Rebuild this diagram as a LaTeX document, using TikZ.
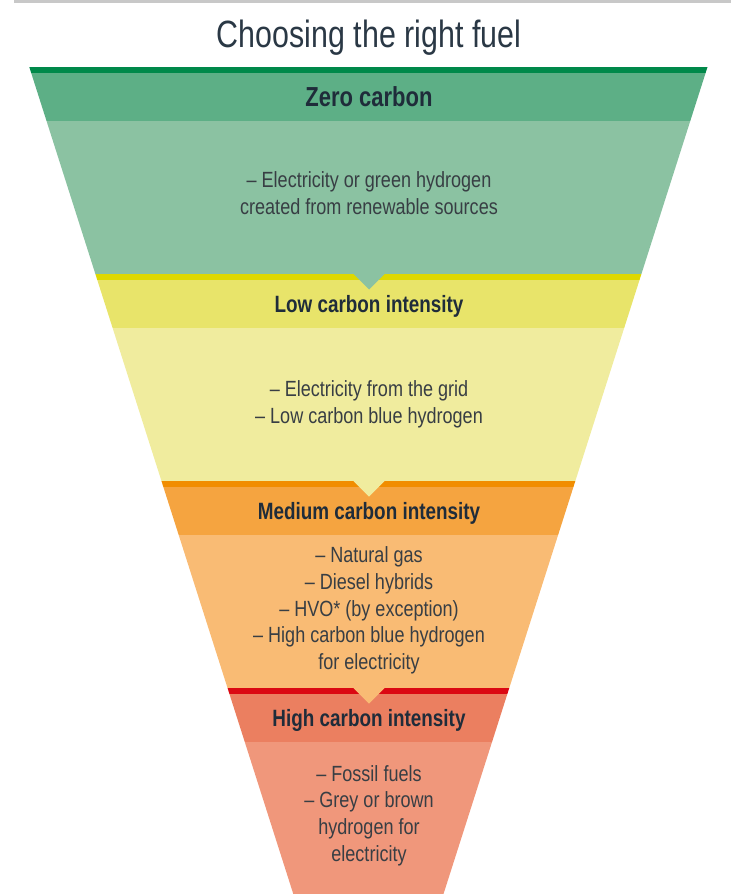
\documentclass[tikz,border=0pt]{standalone}
\usepackage{fontspec}
\setmainfont{Liberation Sans}
\newfontfamily\condfont[FakeStretch=0.8]{Liberation Sans}
\newfontfamily\bodyfont[FakeStretch=0.82]{Liberation Sans}
\definecolor{topgray}{HTML}{C8C8C8}
\definecolor{titlecol}{HTML}{2A3845}
\definecolor{headcol}{HTML}{1F2C3A}
\definecolor{bodycol}{HTML}{383E44}
\definecolor{gline}{HTML}{00894A}
\definecolor{ghead}{HTML}{5DAF86}
\definecolor{gbody}{HTML}{8BC2A2}
\definecolor{yline}{HTML}{DED800}
\definecolor{yhead}{HTML}{E8E46A}
\definecolor{ybody}{HTML}{F0EC9E}
\definecolor{oline}{HTML}{F18D00}
\definecolor{ohead}{HTML}{F5A440}
\definecolor{obody}{HTML}{F9BB74}
\definecolor{rline}{HTML}{DB0812}
\definecolor{rhead}{HTML}{EB7F60}
\definecolor{rbody}{HTML}{F0977B}
\begin{document}
\begin{tikzpicture}[x=1pt,y=-1pt,
  titletext/.style={inner sep=0pt,anchor=base,text=titlecol,font=\condfont\fontsize{38}{40}\selectfont},
  headtext/.style={inner sep=0pt,anchor=base,text=headcol,font=\condfont\bfseries\fontsize{23.6}{26}\selectfont},
  bigheadtext/.style={inner sep=0pt,anchor=base,text=headcol,font=\condfont\bfseries\fontsize{27.5}{30}\selectfont},
  bodytext/.style={inner sep=0pt,align=center,text=bodycol,font=\bodyfont\fontsize{22}{26.7}\selectfont}]
\useasboundingbox (0,0) rectangle (731,894);
% top rule
\fill[topgray] (14,0) rectangle (731,2.6);
% title
\node[titletext] (title) at (369,47) {Choosing the right fuel};
% funnel bands
\begin{scope}
\clip (29.3,67) -- (707.5,67) -- (443.5,894) -- (293.3,894) -- cycle;
% zero carbon
\fill[gline] (0,67) rectangle (731,73);
\fill[ghead] (0,73) rectangle (731,121);
\fill[gbody] (0,121) rectangle (731,274);
% low carbon
\fill[yline] (0,274) rectangle (731,280);
\fill[yhead] (0,280) rectangle (731,328);
\fill[ybody] (0,328) rectangle (731,481);
% medium carbon
\fill[oline] (0,481) rectangle (731,487);
\fill[ohead] (0,487) rectangle (731,535);
\fill[obody] (0,535) rectangle (731,688);
% high carbon
\fill[rline] (0,688) rectangle (731,694);
\fill[rhead] (0,694) rectangle (731,742);
\fill[rbody] (0,742) rectangle (731,894);
\end{scope}
% notches
\fill[gbody] (353.5,274) -- (384.5,274) -- (369,289.5) -- cycle;
\fill[ybody] (353.5,481) -- (384.5,481) -- (369,496.5) -- cycle;
\fill[obody] (353.5,688) -- (384.5,688) -- (369,703.5) -- cycle;
% headings
\node[bigheadtext] (h1) at (369,106.5) {Zero carbon};
\node[headtext] (h2) at (369,312) {Low carbon intensity};
\node[headtext] (h3) at (369,519) {Medium carbon intensity};
\node[headtext] (h4) at (369,726) {High carbon intensity};
% body texts
\node[bodytext] (b1) at (369,195.9) {\strut– Electricity or green hydrogen\\created from renewable sources\strut};
\node[bodytext] (b2) at (369,404.5) {\strut– Electricity from the grid\\– Low carbon blue hydrogen\strut};
\node[bodytext] (b3) at (369,610.9) {\strut– Natural gas\\– Diesel hybrids\\– HVO* (by exception)\\– High carbon blue hydrogen\\for electricity\strut};
\node[bodytext] (b4) at (369,815.8) {\strut– Fossil fuels\\– Grey or brown\\hydrogen for\\electricity\strut};
\end{tikzpicture}
\end{document}
